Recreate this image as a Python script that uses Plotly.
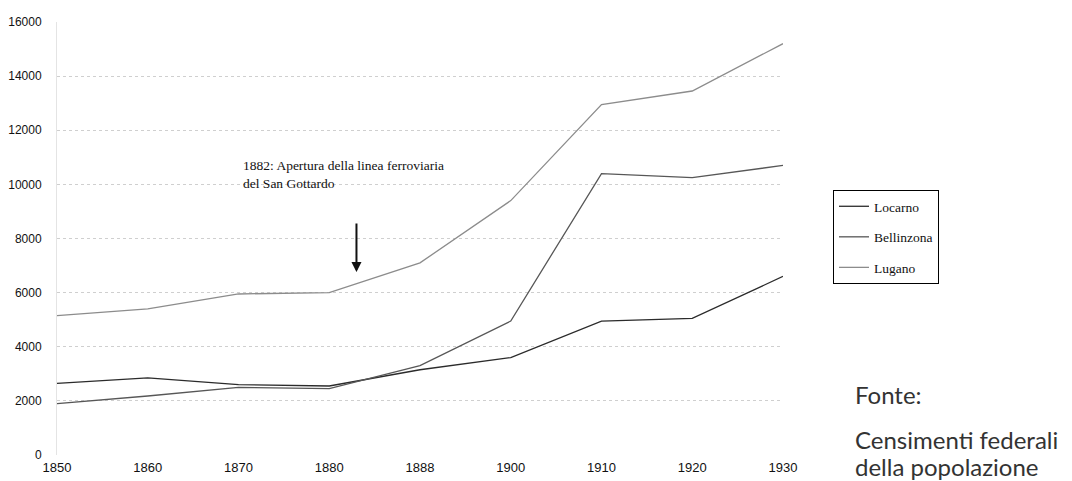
import plotly.graph_objects as go

years = ["1850", "1860", "1870", "1880", "1888", "1900", "1910", "1920", "1930"]
locarno = [2650, 2850, 2600, 2550, 3150, 3600, 4950, 5050, 6600]
bellinzona = [1900, 2180, 2500, 2450, 3300, 4950, 10400, 10250, 10700]
lugano = [5150, 5400, 5950, 6000, 7100, 9400, 12950, 13450, 15200]
y_ticks = [0, 2000, 4000, 6000, 8000, 10000, 12000, 14000, 16000]

series = [
    ("Locarno", locarno, "#2b2b2b"),
    ("Bellinzona", bellinzona, "#575757"),
    ("Lugano", lugano, "#8c8c8c"),
]

xi = list(range(len(years)))

# The page body adds an 8px margin, so the figure is 8px smaller each way
W, H = 1064, 473
L, T, B = 49, 14, 26
PW = 726
PH = 433

fig = go.Figure()
for name, vals, col in series:
    fig.add_trace(go.Scatter(
        x=xi, y=vals, mode="lines", name=name, legendgroup=name,
        line=dict(color=col, width=1.3),
    ))

fig.update_layout(
    width=W, height=H,
    margin=dict(l=L, r=W - L - PW, t=T, b=B, autoexpand=False),
    paper_bgcolor="white", plot_bgcolor="white",
    showlegend=True,
    legend=dict(
        x=(833 - 57) / PW, y=(455 - 190) / PH, xanchor="left", yanchor="top",
        bordercolor="black", borderwidth=1,
        font=dict(family="Liberation Serif", size=13.5, color="#111"),
        tracegroupgap=10, traceorder="grouped",
        itemwidth=30,
    ),
    font=dict(family="Liberation Sans", size=12, color="#111"),
)

fig.update_xaxes(
    range=[0, 8], tickvals=xi, ticktext=years,
    showgrid=False, zeroline=False, showline=False, automargin=False,
    ticks="", tickfont=dict(family="Liberation Sans", size=13, color="#111"),
    ticklabelstandoff=3,
)
fig.update_yaxes(
    range=[0, 16000], tickvals=y_ticks, ticktext=[str(v) for v in y_ticks],
    showgrid=True, gridcolor="#cfcfcf", griddash="dot", gridwidth=1,
    zeroline=False, showline=True, linecolor="#e4e4e4", linewidth=1,
    automargin=False,
    tickfont=dict(family="Liberation Sans", size=12, color="#111"),
    ticklabelstandoff=12,
)

# Event annotation
fig.add_annotation(
    x=2.03, y=10350, xref="x", yref="y",
    text="1882: Apertura della linea ferroviaria<br>del San Gottardo",
    showarrow=False, xanchor="left", yanchor="middle", align="left",
    font=dict(family="Liberation Serif", size=13.5, color="#111"),
)
fig.add_annotation(
    x=3.3, y=6760, xref="x", yref="y",
    ax=3.3, ay=8610, axref="x", ayref="y",
    text="", showarrow=True, arrowhead=2, arrowsize=1, arrowwidth=2,
    arrowcolor="#111",
)

# Source note (one annotation per line), positions given in page pixels
note_lines = [("Fonte:", 394), ("Censimenti federali", 439), ("della popolazione", 466)]
for txt, py in note_lines:
    fig.add_annotation(
        x=(853 - 57) / PW, y=(455 - py) / PH, xref="paper", yref="paper",
        text=txt, showarrow=False, xanchor="left", yanchor="middle",
        font=dict(family="Lato", size=24, color="#333"),
    )

fig.write_html("out.html")
